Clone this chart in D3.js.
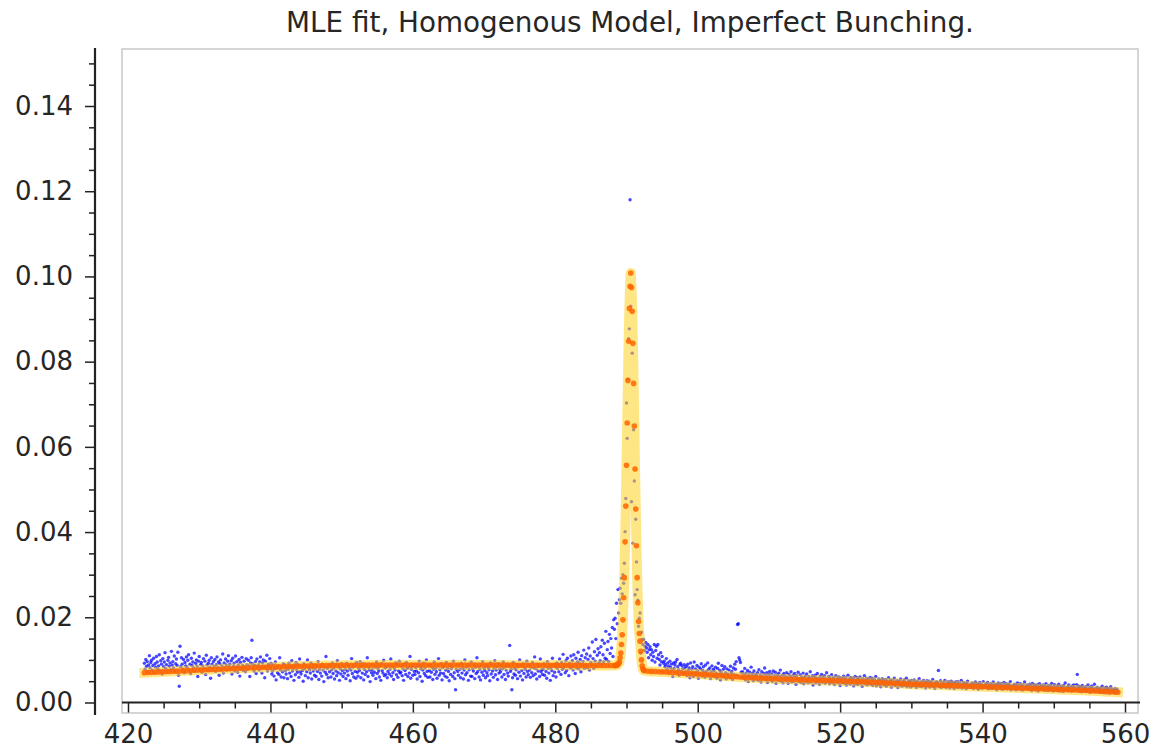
<!DOCTYPE html>
<html>
<head>
<meta charset="utf-8">
<script src="https://cdn.jsdelivr.net/npm/d3@7"></script>
<style>
  html, body { margin: 0; background: #fff; }
  svg { display: block; }
  text { font-family: "DejaVu Sans", sans-serif; fill: #262626; }
</style>
</head>
<body>
<svg id="chart" width="1158" height="749"></svg>
<script>
// ---- data ---------------------------------------------------------------
const chartTitle = "MLE fit, Homogenous Model, Imperfect Bunching.";
const valueUnit = 1e-4;            // all density values below are in units of 1e-4

// observed densities, one value per 0.1 bin starting at 422.3
const obsStart = 422.3, obsStep = 0.1;
const obsY = [
  92,78,101,85,96,72,88,110,81,94,99,76,87,104,69,91,83,108,95,79,
  86,112,74,98,90,67,103,84,95,117,80,89,72,99,106,85,93,77,120,88,
  96,81,109,73,91,102,87,118,64,38,132,84,105,90,79,101,70,94,86,107,
  83,99,112,76,90,68,104,87,95,81,116,73,92,100,85,61,97,108,79,89,
  94,71,86,103,80,97,66,111,88,75,92,99,83,57,105,90,78,96,84,101,
  73,89,107,82,95,64,91,100,77,86,114,69,93,81,102,88,76,97,110,84,
  90,79,98,67,104,85,92,74,109,83,96,71,88,101,62,94,80,106,87,75,
  97,84,72,103,89,78,99,86,61,93,105,146,91,80,74,87,96,68,102,83,
  88,76,95,107,82,69,93,100,85,58,97,81,111,74,90,86,103,79,92,67,
  74,88,62,79,95,53,81,70,86,66,105,77,60,84,72,91,58,89,75,67,
  83,56,78,92,69,85,61,98,74,80,52,87,65,94,76,71,89,59,102,73,
  67,84,75,50,91,79,63,86,72,100,58,81,77,69,93,55,82,74,88,64,
  79,61,87,73,96,54,78,69,85,62,90,76,49,83,71,108,66,80,58,89,
  72,86,60,77,93,68,81,55,89,74,63,98,70,84,52,79,67,91,75,61,
  85,69,78,56,92,74,64,87,80,51,76,103,68,83,60,89,73,57,94,71,
  62,80,75,96,58,84,69,91,53,78,66,87,72,105,61,82,76,49,88,70,
  77,64,89,71,83,56,95,68,80,74,60,86,52,91,75,69,99,63,81,66,
  84,58,73,87,67,78,102,62,85,70,54,81,76,93,65,88,59,74,97,69,
  71,86,63,79,52,90,75,66,94,80,61,83,69,108,57,78,85,64,89,73,
  66,82,74,55,88,70,97,61,79,84,50,76,92,68,81,63,100,73,59,86,
  75,60,89,71,83,54,78,95,66,80,72,57,87,103,64,77,69,91,53,82,
  68,85,62,76,94,59,80,73,51,88,66,79,84,61,97,70,56,30,78,89,
  73,64,87,78,58,92,69,81,55,76,100,65,83,70,89,52,77,86,62,95,
  61,79,74,90,56,83,68,105,72,85,60,78,53,87,71,96,64,80,75,58,
  86,70,63,82,77,51,93,67,89,74,59,81,98,65,76,84,54,91,69,78,
  72,87,60,79,95,66,83,54,76,90,69,62,85,134,73,78,30,58,94,67,
  80,64,77,89,56,84,71,100,62,86,75,53,91,68,82,78,60,97,73,65,
  88,76,59,83,70,94,63,81,107,67,79,55,90,74,85,61,102,72,77,66,
  78,91,64,85,73,57,96,80,69,87,52,82,75,104,63,89,71,84,60,93,
  80,90,72,102,85,66,94,78,113,82,89,70,98,75,104,87,63,92,81,109,
  84,98,76,112,90,68,104,81,95,118,79,92,101,72,110,88,96,123,80,105,
  89,114,82,101,128,76,109,94,88,142,103,80,119,97,148,86,111,126,92,117,
  98,131,90,146,112,95,139,104,167,101,124,143,96,160,115,150,128,176,108,194,
  172,198,150,233,185,265,210,241,268,233,292,255,300,280,327,401,479,703,620,759,
  854,877,1180,930,471,820,374,640,520,253,430,330,265,240,179,198,210,116,165,148,
  136,148,122,132,141,128,118,136,105,124,131,112,124,99,118,108,136,95,122,132,
  104,136,112,101,88,117,96,108,73,92,97,84,89,103,78,93,85,71,97,82,
  90,76,61,93,80,88,95,71,101,84,77,64,89,92,73,86,79,68,89,81,
  72,85,63,90,76,81,58,93,69,78,84,61,95,70,79,66,87,74,57,83,
  68,79,91,62,75,84,70,59,88,73,66,93,77,64,81,56,72,86,63,78,
  74,61,83,69,57,80,92,66,75,53,71,87,64,78,60,84,70,55,79,67,
  62,76,58,85,69,73,54,81,66,90,78,96,64,183,185,105,100,94,71,59,
  72,58,66,80,53,69,61,75,49,64,71,57,83,62,68,51,74,60,66,55,
  63,70,52,77,59,65,48,72,61,56,68,81,54,63,70,47,58,66,73,53,
  60,67,49,74,56,63,71,45,58,65,52,69,61,76,50,57,64,46,68,55,
  62,51,70,58,45,66,53,61,72,48,57,64,50,68,59,43,63,55,71,49,
  56,65,47,60,53,69,44,58,62,50,67,54,46,61,57,72,48,55,63,41,
  59,52,64,46,57,68,50,55,43,61,54,66,48,58,51,63,45,56,70,49,
  53,61,44,57,50,65,47,55,59,42,52,63,49,56,46,60,53,40,58,51,
  47,56,62,45,52,58,41,50,64,48,55,43,59,51,46,57,39,53,61,44,
  50,58,42,54,47,60,45,52,38,56,49,63,44,51,57,41,48,55,46,59,
  43,51,57,40,48,54,45,61,39,50,46,55,42,52,37,49,56,44,53,41,
  47,54,38,50,45,58,42,49,53,36,46,51,43,57,40,48,44,52,35,47,
  50,41,55,44,38,49,46,53,40,47,57,37,45,51,42,48,36,52,44,39,
  46,53,40,48,35,44,50,42,56,38,45,49,37,43,52,41,47,34,46,51,
  39,45,50,36,43,48,41,54,38,46,33,44,49,40,47,75,37,42,51,35,
  44,40,47,37,52,42,35,46,39,49,43,34,45,50,38,41,47,33,44,48,
  37,43,49,35,41,46,39,52,34,42,47,36,40,45,32,44,50,38,41,35,
  42,36,46,40,33,45,38,48,35,41,44,31,39,47,37,43,34,40,49,36,
  41,35,44,38,47,32,40,36,45,39,33,42,48,37,34,43,39,30,41,46,
  36,42,33,45,38,31,40,47,35,39,44,32,37,43,34,41,49,30,38,36,
  40,34,43,37,30,41,46,35,38,32,44,36,39,29,42,35,48,33,37,41,
  34,39,31,43,36,40,28,45,33,37,41,30,38,35,42,27,36,44,32,39,
  37,31,41,34,29,38,44,32,36,28,40,35,30,39,45,33,27,37,42,31,
  35,29,39,32,43,27,36,31,38,34,26,40,33,46,30,35,28,37,41,32,
  30,36,27,39,33,41,29,35,31,42,66,34,38,28,32,37,25,40,30,35,
  28,33,37,26,31,41,29,35,24,32,38,27,34,30,43,25,33,28,36,31,
  27,32,24,35,29,38,26,31,23,34,28,36,25,30,33,22,29,37,26,31,
  24,29,27,33,22,28,31,25
];

// fitted model, left continuum (every 0.5 from 422.3)
const fitLeftStart = 422.3, fitLeftStep = 0.5;
const fitLeftY = [
  70.0,70.4,70.8,71.2,71.6,72.0,72.4,72.8,73.2,73.6,74.0,74.4,74.8,75.2,75.6,76.0,
  76.4,76.7,77.1,77.5,77.9,78.2,78.6,79.0,79.3,79.7,80.1,80.4,80.8,81.1,81.4,81.8,
  82.1,82.4,82.7,83.0,83.2,83.5,83.8,84.0,84.3,84.5,84.8,85.0,85.2,85.5,85.7,85.9,
  86.1,86.3,86.5,86.6,86.8,86.9,87.1,87.2,
  87.3,87.4,87.5,87.5,87.6,87.6,87.7,87.7,87.8,87.8,87.8,87.9,87.9,87.9,88.0,88.0,88.0,88.0,88.0,88.0,
  88.0,88.1,88.1,88.1,88.1,88.1,88.1,88.1,88.1,88.1,88.1,88.1,88.1,88.0,88.0,88.0,88.0,88.0,88.0,88.0,
  87.9,87.9,87.9,87.8,87.8,87.8,87.7,87.7,87.7,87.6,87.6,87.6,87.5,87.5,87.5,87.4,87.4,87.4,87.3,87.3,
  87.3,87.2,87.2,87.2,87.1,87.1,87.1,87.0,87.0,87.0,86.9,86.9,86.9,86.9,86.9,86.9,87.0
];

// fitted model, bunching peak (every 0.1 from 488.4)
const fitPeakStart = 488.4, fitPeakStep = 0.1;
const fitPeakY = [
  87.0,87.2,87.6,88.3,89.5,91.5,
  95,105,116,136,159,194,246,293,377,461,
  557,656,756,848,925,977,1008,974,918,843,
  749,649,548,454,368,293,234,190,162,144,
  120,100,86,79,76,74.8
];

// fitted model, right continuum (every 0.5 from 493.0)
const fitRightStart = 493.0, fitRightStep = 0.5;
const fitRightY = [
  73.5,73.0,72.6,72.2,71.8,71.3,70.8,70.3,69.8,69.3,68.8,68.3,67.8,67.2,66.7,66.1,
  65.6,65.0,64.4,63.8,63.2,62.6,62.0,61.4,60.8,60.3,59.8,59.3,58.8,58.3,57.8,57.4,
  57.0,56.6,56.2,55.8,55.5,55.2,54.9,54.6,54.3,54.0,53.7,53.4,53.1,52.8,52.6,52.4,
  52.1,51.9,51.6,51.4,51.1,50.9,50.6,50.3,50.0,49.7,49.4,49.0,48.7,48.3,47.9,47.5,
  47.1,46.7,46.3,45.9,45.5,45.1,44.7,44.3,43.9,43.5,43.1,42.8,42.5,42.2,41.9,41.6,
  41.3,41.0,40.7,40.4,40.1,39.8,39.5,39.2,38.9,38.6,38.3,38.0,37.7,37.4,37.1,36.8,
  36.5,36.2,35.9,35.6,35.3,35.0,34.7,34.4,34.1,33.8,33.5,33.2,32.9,32.6,32.3,32.0,
  31.7,31.4,31.1,30.8,30.5,30.2,29.9,29.6,29.3,29.0,28.6,28.2,27.8,27.3,26.9,26.5,
  26.0,25.5,25.1,24.6,24.1
];

// axis ticks
const xMajorTicks = [420, 440, 460, 480, 500, 520, 540, 560];
const xMinorStep = 5;
const yMajorTicks = [0, 0.02, 0.04, 0.06, 0.08, 0.10, 0.12, 0.14];
const yMinorStep = 0.005;

// ---- build point lists --------------------------------------------------
const onGrid = (vals, start, step) =>
  vals.map((v, i) => ({ x: +(start + i * step).toFixed(2), y: v * valueUnit }));

const observed = onGrid(obsY, obsStart, obsStep);
const fitted = [
  ...onGrid(fitLeftY, fitLeftStart, fitLeftStep),
  ...onGrid(fitPeakY, fitPeakStart, fitPeakStep),
  ...onGrid(fitRightY, fitRightStart, fitRightStep)
];

// ---- layout -------------------------------------------------------------
const svg = d3.select("#chart");
const frame = { left: 122, top: 49, right: 1138, bottom: 713 };
const yAxisX = 95;

const x = d3.scaleLinear().domain([420, 560]).range([128, 1125]);
const y = d3.scaleLinear().domain([0, 0.15]).range([702.5, 63.4]);

// plot frame
svg.append("rect")
  .attr("x", frame.left).attr("y", frame.top)
  .attr("width", frame.right - frame.left)
  .attr("height", frame.bottom - frame.top)
  .attr("fill", "none")
  .attr("stroke", "#cbcbcb")
  .attr("stroke-width", 1.6);

// observed points
svg.append("g")
  .selectAll("circle")
  .data(observed)
  .join("circle")
  .attr("cx", d => x(d.x))
  .attr("cy", d => y(d.y))
  .attr("r", 1.7)
  .attr("fill", "#0000ff")
  .attr("fill-opacity", 0.72);

// fitted curve: wide translucent band
svg.append("path")
  .datum(fitted)
  .attr("fill", "none")
  .attr("stroke", "#ffd21f")
  .attr("stroke-opacity", 0.55)
  .attr("stroke-width", 10)
  .attr("stroke-linejoin", "round")
  .attr("stroke-linecap", "square")
  .attr("d", d3.line().x(d => x(d.x)).y(d => y(d.y)));

// fitted values as dots
svg.append("g")
  .selectAll("circle")
  .data(fitted)
  .join("circle")
  .attr("cx", d => x(d.x))
  .attr("cy", d => y(d.y))
  .attr("r", 2.8)
  .attr("fill", "#ff6400")
  .attr("fill-opacity", 0.85);

// ---- axes ---------------------------------------------------------------
const styleAxis = g => {
  g.select(".domain").remove();
  g.selectAll(".tick line").attr("stroke", "#222").attr("stroke-width", 1.5);
  g.selectAll(".tick text")
    .attr("fill", "#262626")
    .style("font-family", '"DejaVu Sans", sans-serif')
    .style("font-size", "26px");
};

const yMinor = d3.range(0, 0.1501, yMinorStep).filter(v => !yMajorTicks.some(t => Math.abs(t - v) < 1e-9));
const xMinor = d3.range(420, 560.01, xMinorStep).filter(v => !xMajorTicks.includes(v));

// left axis
svg.append("g")
  .attr("transform", `translate(${yAxisX},0)`)
  .call(d3.axisLeft(y).tickValues(yMinor).tickSize(6).tickFormat(""))
  .call(styleAxis);
svg.append("g")
  .attr("transform", `translate(${yAxisX},0)`)
  .call(d3.axisLeft(y).tickValues(yMajorTicks).tickSize(10).tickPadding(12)
    .tickFormat(d3.format(".2f")))
  .call(styleAxis);
svg.append("line")
  .attr("x1", yAxisX).attr("x2", yAxisX)
  .attr("y1", frame.top - 1).attr("y2", frame.bottom + 2)
  .attr("stroke", "#222").attr("stroke-width", 2.2);

// bottom axis
svg.append("g")
  .attr("transform", `translate(0,${y(0)})`)
  .call(d3.axisBottom(x).tickValues(xMinor).tickSize(6).tickFormat(""))
  .call(styleAxis);
svg.append("g")
  .attr("transform", `translate(0,${y(0)})`)
  .call(d3.axisBottom(x).tickValues(xMajorTicks).tickSize(10).tickPadding(12)
    .tickFormat(d3.format("d")))
  .call(styleAxis);
svg.append("line")
  .attr("x1", frame.left).attr("x2", frame.right + 2)
  .attr("y1", y(0)).attr("y2", y(0))
  .attr("stroke", "#222").attr("stroke-width", 2);

// title
svg.append("text")
  .attr("x", (frame.left + frame.right) / 2)
  .attr("y", 32)
  .attr("text-anchor", "middle")
  .style("font-size", "27.8px")
  .text(chartTitle);
</script>
</body>
</html>
